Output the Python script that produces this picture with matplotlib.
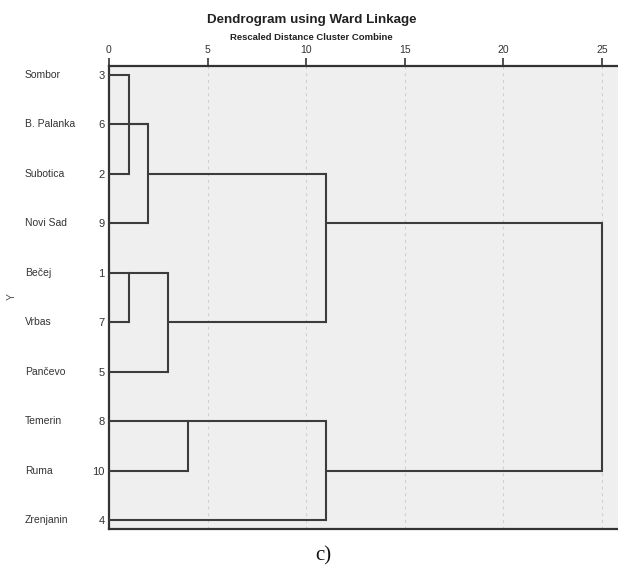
import matplotlib
matplotlib.use("Agg")
import matplotlib.pyplot as plt
import numpy as np

# ---- data ----
labels = ['Sombor', 'B. Palanka', 'Subotica', 'Novi Sad', 'Bečej',
          'Vrbas', 'Pančevo', 'Temerin', 'Ruma', 'Zrenjanin']
case_numbers = [3, 6, 2, 9, 1, 7, 5, 8, 10, 4]
# merges: (child_a, child_b, rescaled distance); leaves are 0..9, new nodes 10..
merge_a = [0, 4, 10, 12, 11, 7, 13, 15, 16]
merge_b = [2, 5, 1, 3, 6, 8, 14, 9, 17]
merge_dist = [1, 1, 2, 2, 3, 4, 11, 11, 25]
x_ticks = [0, 5, 10, 15, 20, 25]

W, H = 618, 571
fig = plt.figure(figsize=(W / 100, H / 100), dpi=100)
fam = ['Liberation Sans', 'Arial', 'DejaVu Sans']
plt.rcParams['font.family'] = fam

ax_l, ax_r, ax_t, ax_b = 109, 618, 66, 529
ax = fig.add_axes([ax_l / W, 1 - ax_b / H, (ax_r - ax_l) / W, (ax_b - ax_t) / H])
ax.set_facecolor('#efefef')

n = len(labels)
ypos = {i: float(i) for i in range(n)}
xpos = {i: 0.0 for i in range(n)}
lc = '#3c3c3c'
lw = 1.5
for k, (a, b, d) in enumerate(zip(merge_a, merge_b, merge_dist)):
    node = n + k
    ya, yb = ypos[a], ypos[b]
    ax.plot([xpos[a], d], [ya, ya], color=lc, lw=lw, solid_capstyle='butt', zorder=3)
    ax.plot([xpos[b], d], [yb, yb], color=lc, lw=lw, solid_capstyle='butt', zorder=3)
    ax.plot([d, d], [ya, yb], color=lc, lw=lw, solid_capstyle='projecting', zorder=3)
    ypos[node] = float(np.floor((ya + yb) / 2))
    xpos[node] = d

ax.set_xlim(0, (ax_r - ax_l) / 19.72)
ax.set_ylim(n - 1 + 0.18, -0.18)

for t in x_ticks[1:]:
    ax.axvline(t, color='#cfcfcf', lw=0.8, ls=(0, (2.5, 3.5)), zorder=1)

ax.xaxis.tick_top()
ax.set_xticks(x_ticks)
ax.set_xticklabels([str(t) for t in x_ticks], fontsize=7.5, color='#333333')
ax.tick_params(axis='x', direction='out', length=6, width=1.2, color='#333333', pad=2)
ax.set_yticks(range(n))
ax.set_yticklabels([str(c) for c in case_numbers], fontsize=8, color='#333333')
ax.tick_params(axis='y', length=0, pad=3)

for s in ['top', 'bottom', 'left']:
    ax.spines[s].set_color('#333333')
    ax.spines[s].set_linewidth(1.6)
ax.spines['right'].set_visible(False)

for i, lab in enumerate(labels):
    ax.text(-84 / 19.72, i, lab, fontsize=7.5, color='#333333',
            ha='left', va='center', clip_on=False)

fig.text(12 / W, 1 - 297 / H, 'Y', rotation=90, fontsize=7.5, color='#555555',
         ha='center', va='center')

fig.text(312 / W, 1 - 20 / H, 'Dendrogram using Ward Linkage', fontsize=9.6,
         fontweight='bold', color='#222222', ha='center', va='center')
fig.text(311 / W, 1 - 38 / H, 'Rescaled Distance Cluster Combine', fontsize=6.8,
         fontweight='bold', color='#222222', ha='center', va='center')

fig.text(323 / W, 1 - 556 / H, 'c)', fontsize=15, family=['Liberation Serif', 'DejaVu Serif'],
         color='#111111', ha='center', va='center')

fig.savefig('out.png', dpi=100)
